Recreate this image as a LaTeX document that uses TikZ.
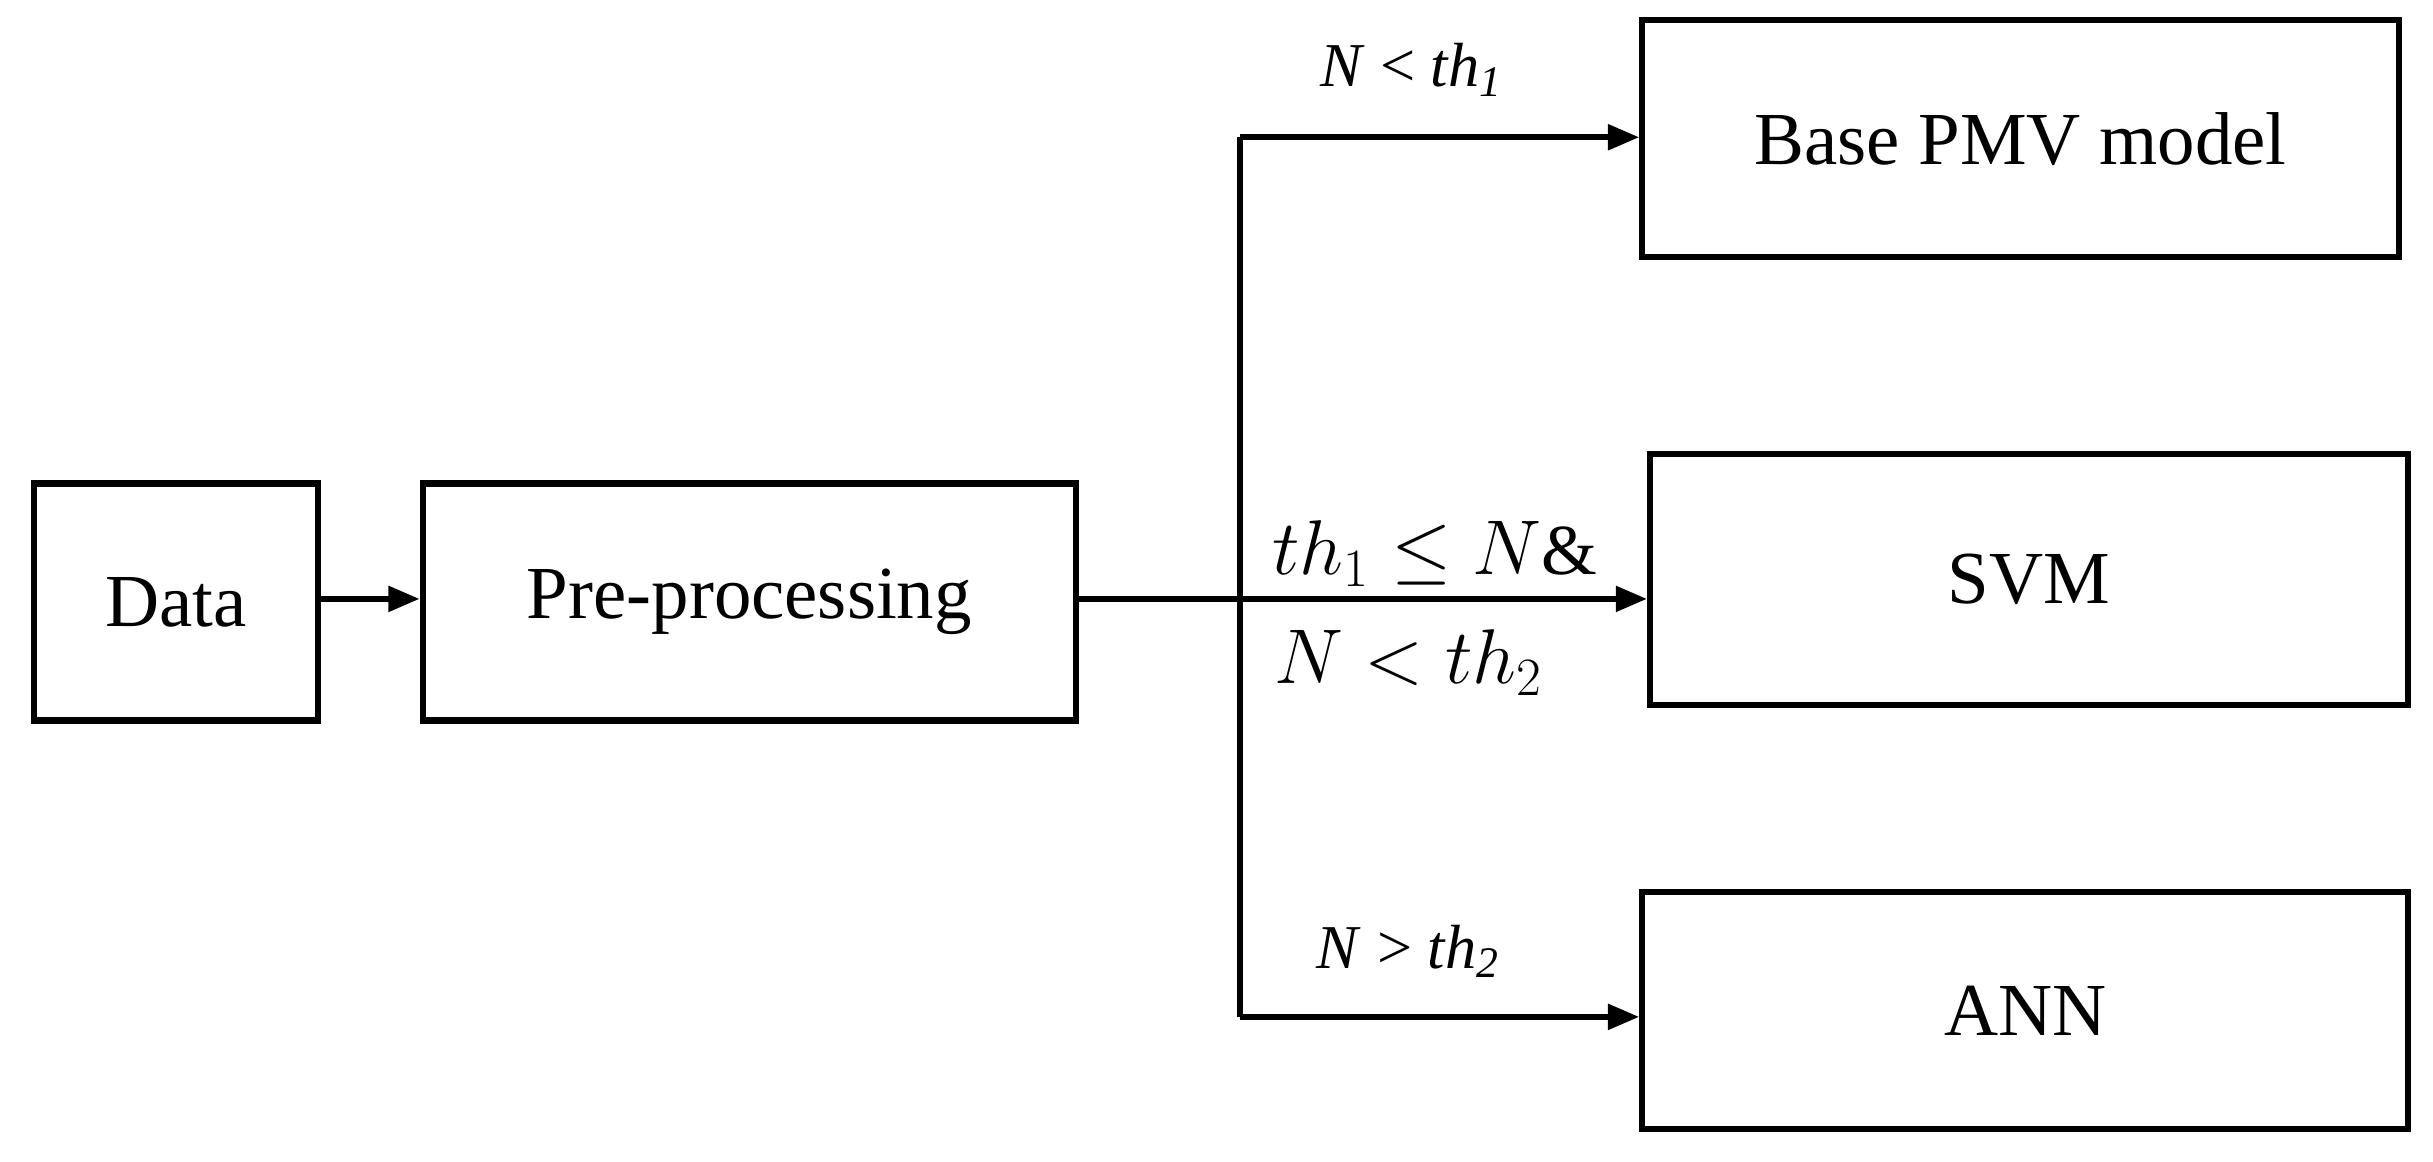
\documentclass[tikz,border=0pt]{standalone}
\usepackage{fontspec}
\setmainfont{Liberation Serif}
\usetikzlibrary{arrows.meta}
\begin{document}
\begin{tikzpicture}[x=0.5pt,y=-0.5pt,
 box/.style={draw,line width=2pt,inner sep=0pt,font=\fontsize{24}{28}\selectfont},
 arr/.style={line width=1.8pt,-{Triangle[length=10pt,width=8pt]}},
 lab/.style={font=\fontsize{20}{24}\selectfont}]
\useasboundingbox (0,0) rectangle (1560,745);
\node[box,minimum width=91pt,minimum height=76pt] (data) at (113,386) {Data};
\node[box,minimum width=209.5pt,minimum height=76pt] (pre) at (480.5,386) {Pre-processing};
\node[box,minimum width=242.5pt,minimum height=76pt] (pmv) at (1295.5,89) {Base PMV model};
\node[box,minimum width=243pt,minimum height=80.5pt] (svm) at (1301,371.5) {SVM};
\node[box,minimum width=245.5pt,minimum height=76pt] (ann) at (1298.5,648) {ANN};
\coordinate (j) at (795,384);
\coordinate (jt) at (795,88);
\coordinate (jb) at (795,652);
\draw[arr] (data.east|-0,384) -- (pre.west|-0,384);
\draw[line width=1.8pt] (pre.east|-0,384) -- (j);
\draw[line width=1.8pt] (jt) -- (jb);
\draw[arr] (j) -- (svm.west|-0,384);
\draw[arr] (jt) -- (pmv.west|-0,88);
\draw[arr] (jb) -- (ann.west|-0,652);
\node[lab] (l1) at (905,45) {\textit{N} < \textit{th\textsubscript{1}}};
\node[lab,font=\fontsize{23}{27}\selectfont] (l2) at (920,355) {$th_1\leq N\&$};
\node[lab,font=\fontsize{23}{27}\selectfont] (l3) at (903,425) {$N<th_2$};
\node[lab] (l4) at (903,610) {\textit{N} > \textit{th\textsubscript{2}}};
\end{tikzpicture}
\end{document}
